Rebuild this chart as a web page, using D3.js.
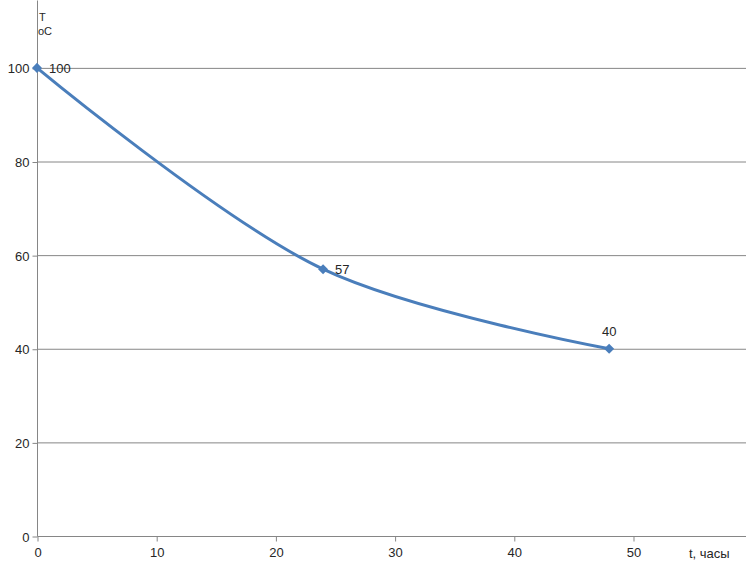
<!DOCTYPE html>
<html>
<head>
<meta charset="utf-8">
<script src="https://cdn.jsdelivr.net/npm/d3@7"></script>
<style>
  body { margin: 0; background: #fff; }
  svg { display: block; }
  text { font-family: "Liberation Sans", Arial, sans-serif; fill: #262626; }
</style>
</head>
<body>
<svg id="chart" width="746" height="567"></svg>
<script>
// cooling curve
const hours = [0, 24, 48];
const temps = [100, 57, 40];
const xTicks = [0, 10, 20, 30, 40, 50];
const yTicks = [0, 20, 40, 60, 80, 100];

const svg = d3.select("#chart");
const width = +svg.attr("width");

const x = d3.scaleLinear().domain([0, 59.48]).range([37, width]);
const y = d3.scaleLinear().domain([0, 114.5]).range([536, 0]);

const data = hours.map((h, i) => ({h, t: temps[i]}));

// horizontal gridlines
svg.append("g")
    .selectAll("line")
    .data(yTicks.slice(1))
    .enter()
    .append("line")
    .attr("x1", x(0))
    .attr("x2", width)
    .attr("y1", d => y(d) + 0.5)
    .attr("y2", d => y(d) + 0.5)
    .attr("stroke", "#868686")
    .attr("stroke-width", 1);

// y axis
const yAxis = svg.append("g")
    .attr("transform", `translate(${x(0) + 0.5},0.5)`)
    .call(d3.axisLeft(y).tickValues(yTicks).tickSize(5).tickPadding(3));
yAxis.select(".domain").attr("stroke", "#868686").attr("d", `M0,0V${y(0)}`);
yAxis.selectAll(".tick line").attr("stroke", "#868686");
yAxis.selectAll(".tick text").style("font-size", "13px").attr("dy", "0.35em");

// x axis
const xAxis = svg.append("g")
    .attr("transform", `translate(0.5,${y(0) + 0.5})`)
    .call(d3.axisBottom(x).tickValues(xTicks).tickSize(5).tickPadding(6));
xAxis.select(".domain").attr("stroke", "#868686").attr("d", `M${x(0)},0H${width}`);
xAxis.selectAll(".tick line").attr("stroke", "#868686");
xAxis.selectAll(".tick text").style("font-size", "13px");

// axis titles
svg.append("text").attr("x", 39).attr("y", 21).style("font-size", "11px").text("T");
svg.append("text").attr("x", 38).attr("y", 35).style("font-size", "11px").text("oC");
svg.append("text").attr("x", 689).attr("y", 558).style("font-size", "13px").text("t, часы");

// smoothed line
const line = d3.line()
    .x(d => x(d.h))
    .y(d => y(d.t))
    .curve(d3.curveCatmullRom.alpha(0.5));

svg.append("path")
    .datum(data)
    .attr("fill", "none")
    .attr("stroke", "#4a7ebb")
    .attr("stroke-width", 3)
    .attr("d", line);

// diamond markers
svg.append("g")
    .selectAll("path")
    .data(data)
    .enter()
    .append("path")
    .attr("transform", d => `translate(${x(d.h)},${y(d.t)})`)
    .attr("d", d3.symbol().type(d3.symbolDiamond2).size(64))
    .attr("fill", "#4a7ebb");

// data labels
const labelPos = [
  {dx: 12, dy: 5, anchor: "start"},
  {dx: 12, dy: 5, anchor: "start"},
  {dx: 0, dy: -13, anchor: "middle"}
];
svg.append("g")
    .selectAll("text")
    .data(data)
    .enter()
    .append("text")
    .attr("x", (d, i) => x(d.h) + labelPos[i].dx)
    .attr("y", (d, i) => y(d.t) + labelPos[i].dy)
    .attr("text-anchor", (d, i) => labelPos[i].anchor)
    .style("font-size", "13px")
    .text(d => d.t);
</script>
</body>
</html>
